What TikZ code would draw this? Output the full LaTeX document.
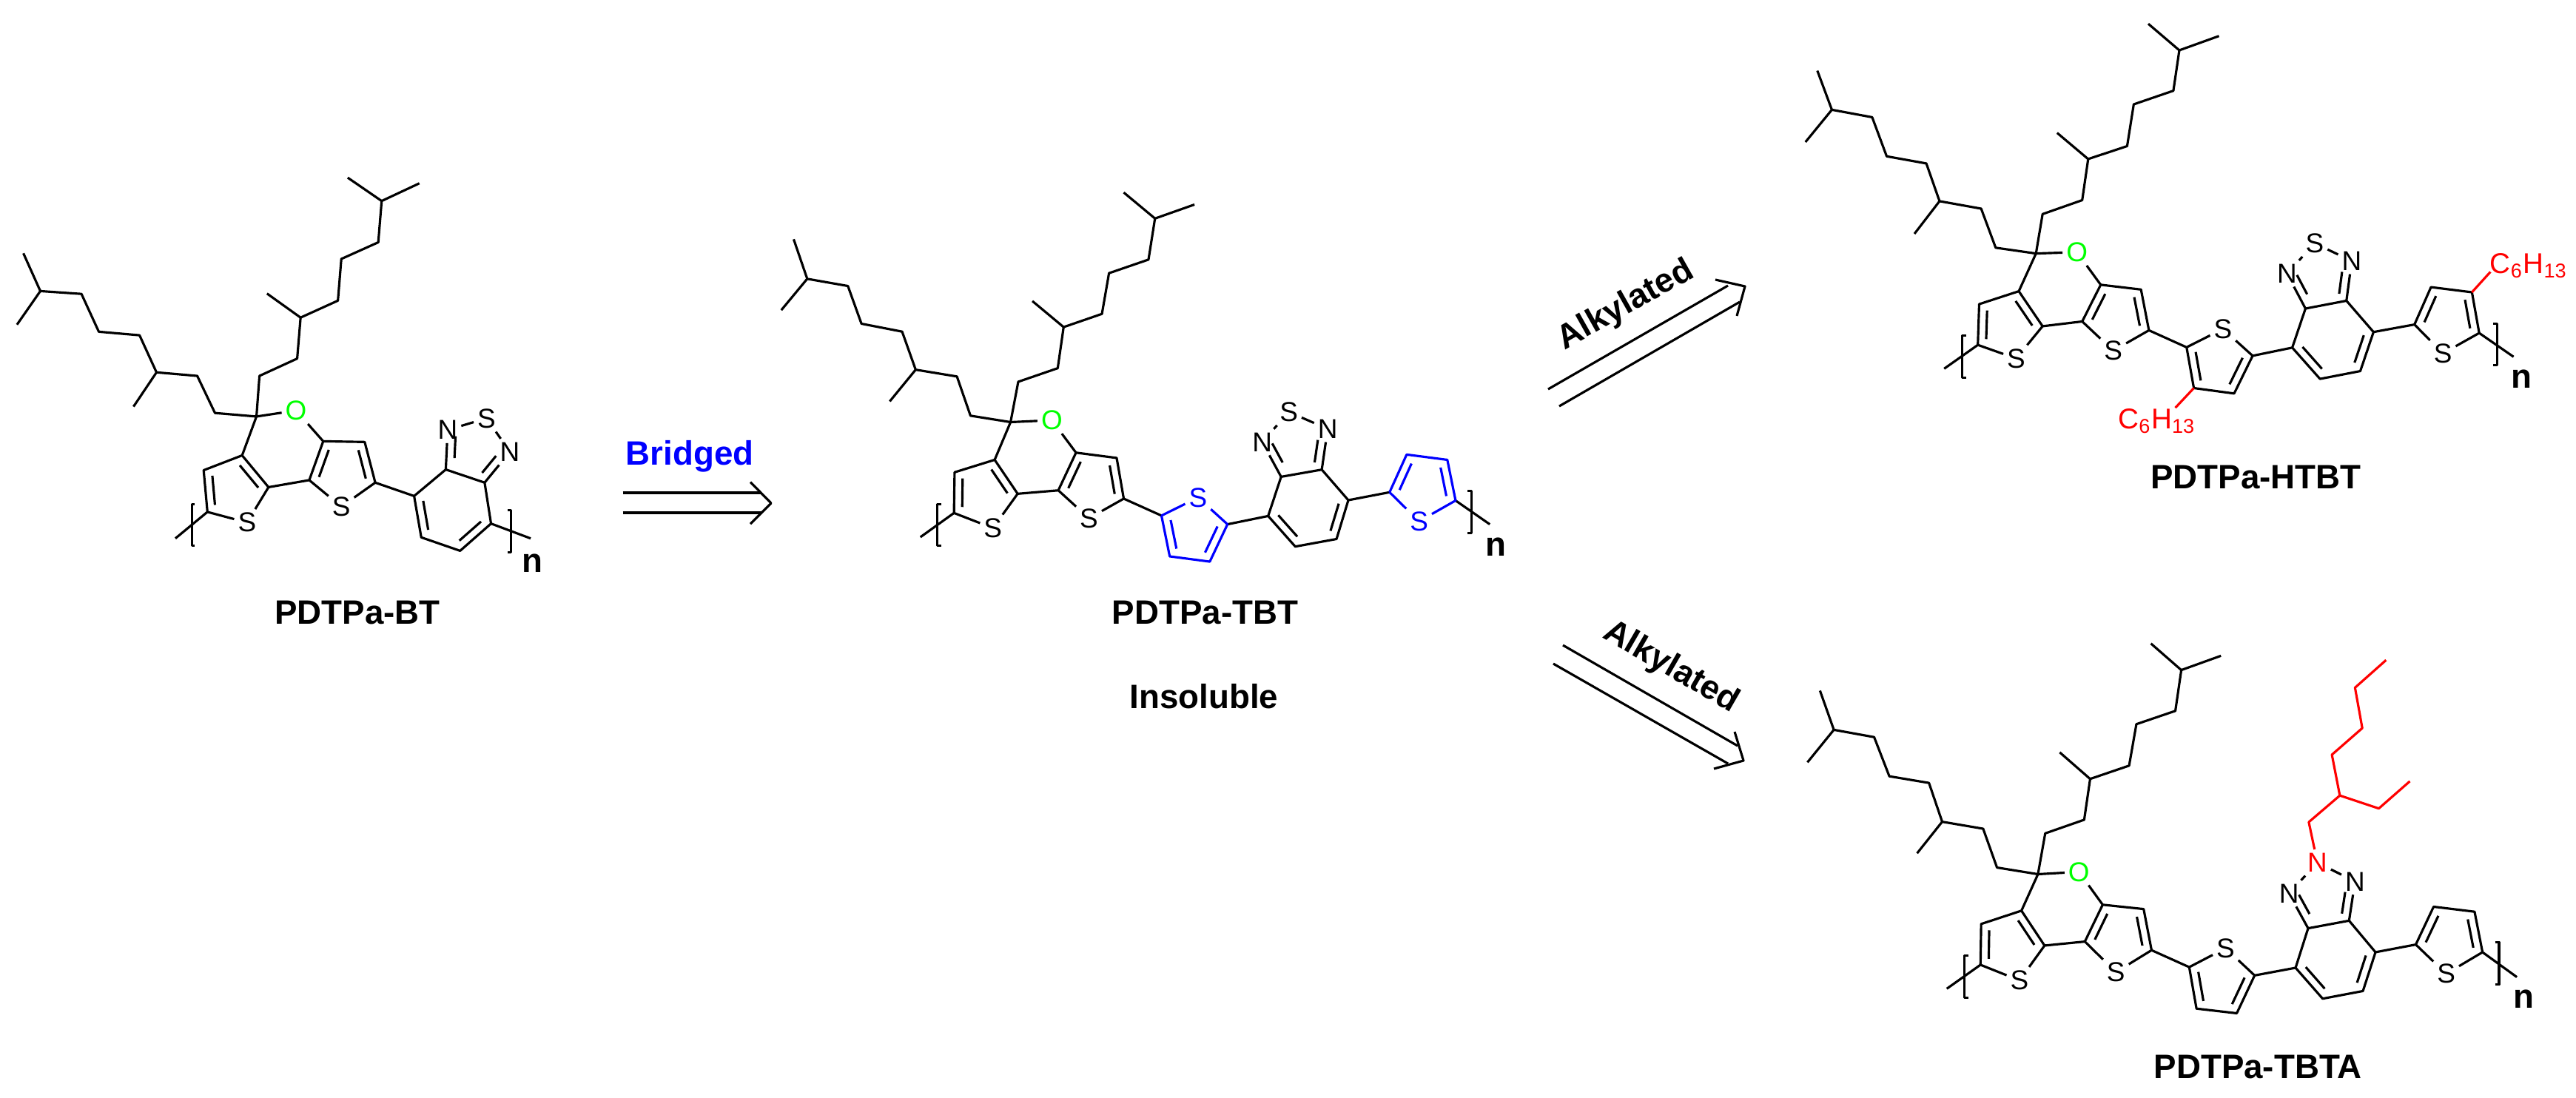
\documentclass[tikz,border=0pt]{standalone}
\usepackage{fontspec}
\setmainfont{Liberation Sans}
\usetikzlibrary{calc}
\definecolor{oxygreen}{RGB}{0,255,0}
\tikzstyle{atom}=[inner sep=1pt, font=\fontsize{10.5}{11}\selectfont]
\tikzstyle{oatom}=[atom, oxygreen]
\tikzstyle{compound}=[inner sep=0pt, font=\fontsize{13}{14}\selectfont\bfseries]
\tikzstyle{hexyl}=[inner sep=0pt, red, font=\fontsize{11}{12}\selectfont]
\newcommand{\inbond}[3][.15]{\draw ($(#2)!.15!(#3)!.11cm!90:(#3)$) -- ($(#3)!#1!(#2)!-.11cm!90:(#2)$);}
\begin{document}
\begin{tikzpicture}[line width=.9pt, line join=round]
    \useasboundingbox (0,0) rectangle (34.81,-14.83);

    \begin{scope}[xshift=0cm, yshift=-2cm, x=.005102cm, y=-.004783cm]
        \coordinate (Aq) at (680,760);
        \node[oatom] (AO) at (785,743) {O};
        \coordinate (Aa1) at (570,750); \coordinate (Aa2) at (523,645); \coordinate (Aa3) at (415,635);
        \coordinate (Aa4) at (354,732); \coordinate (Aa5) at (370,530); \coordinate (Aa6) at (262,520);
        \coordinate (Aa7) at (216,413); \coordinate (Aa8) at (107,405); \coordinate (Aa9) at (62,298);
        \coordinate (Aa10) at (45,500);
        \coordinate (Ae1) at (688,645); \coordinate (Ae2) at (788,596); \coordinate (Ae3) at (797,480);
        \coordinate (Ae4) at (708,412); \coordinate (Ae5) at (896,432); \coordinate (Ae6) at (905,314);
        \coordinate (Ae7) at (1003,267); \coordinate (Ae8) at (1012,150); \coordinate (Ae9) at (922,84);
        \coordinate (Ae10) at (1112,100);
        \coordinate (Ac1) at (642,870); \coordinate (Ac2) at (540,912); \coordinate (Ac3) at (550,1030);
        \coordinate (Ac4) at (712,960); \coordinate (Ac5) at (820,940); \coordinate (Ac6) at (995,947);
        \coordinate (Ac7) at (967,832); \coordinate (Ac8) at (857,830);
        \node[atom] (AS1) at (655,1060) {S};
        \node[atom] (AS2) at (905,1015) {S};
        \coordinate (Ab1) at (1098,985); \coordinate (Ab2) at (1117,1102); \coordinate (Ab3) at (1220,1140);
        \coordinate (Ab4) at (1302,1063); \coordinate (Ab5) at (1285,947); \coordinate (Ab6) at (1182,910);
        \node[atom] (AN1) at (1187,798) {N};
        \node[atom] (AN2) at (1352,860) {N};
        \node[atom] (AS3) at (1290,765) {S};
        \coordinate (Aend1) at (465,1105); \coordinate (Aend2) at (1407,1105);
        \draw (Aq) -- (Aa1) -- (Aa2) -- (Aa3) -- (Aa5) -- (Aa6) -- (Aa7) -- (Aa8) -- (Aa9);
        \draw (Aa3) -- (Aa4);
        \draw (Aa8) -- (Aa10);
        \draw (Aq) -- (Ae1) -- (Ae2) -- (Ae3) -- (Ae5) -- (Ae6) -- (Ae7) -- (Ae8) -- (Ae9);
        \draw (Ae3) -- (Ae4);
        \draw (Ae8) -- (Ae10);
        \draw (AO) -- (Aq) -- (Ac1) -- (Ac2) -- (Ac3) -- (AS1) -- (Ac4) -- (Ac1);
        \draw (Ac4) -- (Ac5) -- (AS2) -- (Ac6) -- (Ac7) -- (Ac8) -- (Ac5);
        \draw (Ac8) -- (AO);
        \draw (Ac6) -- (Ab1) -- (Ab2) -- (Ab3) -- (Ab4) -- (Ab5) -- (Ab6) -- (Ab1);
        \draw (Ab6) -- (AN1) -- (AS3) -- (AN2) -- (Ab5);
        \draw (Ac3) -- (Aend1);
        \draw (Ab4) -- (Aend2);
        \inbond{Ac2}{Ac3} \inbond{Ac4}{Ac1} \inbond{Ac6}{Ac7} \inbond{Ac8}{Ac5}
        \inbond{Ab1}{Ab2} \inbond{Ab3}{Ab4}
        \inbond[.3]{Ab5}{AN2} \inbond[.3]{AN1}{Ab6}
        \draw (517,1008) -- (510,1008) -- (510,1125) -- (517,1125);
        \draw (1347,1025) -- (1355,1025) -- (1355,1145) -- (1347,1145);
        \node[compound] (An) at (1412,1175) {n};
        \node[compound] (Aname) at (948,1315) {PDTPa-BT};
    \end{scope}

    \node[compound, blue] (bridged) at (9.32,-6.17) {Bridged};
    \coordinate (m1a) at (8.415,-6.66); \coordinate (m1b) at (10.29,-6.66);
    \coordinate (m2a) at (8.415,-6.93); \coordinate (m2b) at (10.29,-6.93);
    \coordinate (mh1) at (10.14,-6.515); \coordinate (mh2) at (10.42,-6.80); \coordinate (mh3) at (10.14,-7.08);
    \draw (m1a) -- (m1b);
    \draw (m2a) -- (m2b);
    \draw (mh1) -- (mh2) -- (mh3);

    \begin{scope}[xshift=8.2cm, yshift=-2cm, x=.007972cm, y=-.005102cm]
        \coordinate (Bq) at (685,727);
        \node[oatom] (BO) at (755,722) {O};
        \coordinate (Ba1) at (617,710); \coordinate (Ba2) at (594,606); \coordinate (Ba3) at (524,588);
        \coordinate (Ba4) at (480,672); \coordinate (Ba5) at (501,487); \coordinate (Ba6) at (432,466);
        \coordinate (Ba7) at (409,366); \coordinate (Ba8) at (340,347); \coordinate (Ba9) at (317,242);
        \coordinate (Ba10) at (296,430);
        \coordinate (Be1) at (698,620); \coordinate (Be2) at (765,584); \coordinate (Be3) at (775,475);
        \coordinate (Be4) at (722,406); \coordinate (Be5) at (840,440); \coordinate (Be6) at (852,332);
        \coordinate (Be7) at (919,296); \coordinate (Be8) at (930,187); \coordinate (Be9) at (877,118);
        \coordinate (Be10) at (997,150);
        \coordinate (Bc1) at (658,827); \coordinate (Bc2) at (590,860); \coordinate (Bc3) at (589,968);
        \coordinate (Bc4) at (697,917); \coordinate (Bc5) at (766,908); \coordinate (Bc6) at (877,930);
        \coordinate (Bc7) at (865,822); \coordinate (Bc8) at (796,808);
        \node[atom] (BS1) at (655,1008) {S};
        \node[atom] (BS2) at (818,982) {S};
        \coordinate (Bt1) at (941,975); \coordinate (Bt2) at (1053,998); \coordinate (Bt3) at (1023,1097);
        \coordinate (Bt4) at (955,1083);
        \node[atom, blue] (BS3) at (1003,927) {S};
        \coordinate (Bb1) at (1122,976); \coordinate (Bb2) at (1168,1057); \coordinate (Bb3) at (1238,1037);
        \coordinate (Bb4) at (1258,934); \coordinate (Bb5) at (1213,853); \coordinate (Bb6) at (1144,872);
        \node[atom] (BN1) at (1112,780) {N};
        \node[atom] (BN2) at (1223,745) {N};
        \node[atom] (BS4) at (1157,700) {S};
        \coordinate (Bu1) at (1328,913); \coordinate (Bu2) at (1357,813); \coordinate (Bu3) at (1426,827);
        \coordinate (Bu4) at (1440,935);
        \node[atom, blue] (BS5) at (1378,990) {S};
        \coordinate (Bend1) at (532,1032); \coordinate (Bend2) at (1498,998);
        \draw (Bq) -- (Ba1) -- (Ba2) -- (Ba3) -- (Ba5) -- (Ba6) -- (Ba7) -- (Ba8) -- (Ba9);
        \draw (Ba3) -- (Ba4);
        \draw (Ba8) -- (Ba10);
        \draw (Bq) -- (Be1) -- (Be2) -- (Be3) -- (Be5) -- (Be6) -- (Be7) -- (Be8) -- (Be9);
        \draw (Be3) -- (Be4);
        \draw (Be8) -- (Be10);
        \draw (BO) -- (Bq) -- (Bc1) -- (Bc2) -- (Bc3) -- (BS1) -- (Bc4) -- (Bc1);
        \draw (Bc4) -- (Bc5) -- (BS2) -- (Bc6) -- (Bc7) -- (Bc8) -- (Bc5);
        \draw (Bc8) -- (BO);
        \draw (Bc6) -- (Bt1);
        \draw (Bt2) -- (Bb1) -- (Bb2) -- (Bb3) -- (Bb4) -- (Bb5) -- (Bb6) -- (Bb1);
        \draw (Bb6) -- (BN1) -- (BS4) -- (BN2) -- (Bb5);
        \draw (Bb4) -- (Bu1);
        \draw (Bc3) -- (Bend1);
        \draw (Bu4) -- (Bend2);
        \inbond{Bc2}{Bc3} \inbond{Bc4}{Bc1} \inbond{Bc6}{Bc7} \inbond{Bc8}{Bc5}
        \inbond{Bb1}{Bb2} \inbond{Bb3}{Bb4}
        \inbond[.3]{Bb5}{BN2} \inbond[.3]{BN1}{Bb6}
        \begin{scope}[blue]
            \draw (Bt1) -- (BS3) -- (Bt2) -- (Bt3) -- (Bt4) -- (Bt1);
            \draw (Bu1) -- (Bu2) -- (Bu3) -- (Bu4) -- (BS5) -- (Bu1);
            \inbond{Bt1}{Bt4} \inbond{Bt3}{Bt2} \inbond{Bu4}{Bu3} \inbond{Bu2}{Bu1}
        \end{scope}
        \draw (568,945) -- (561,945) -- (561,1055) -- (568,1055);
        \draw (1460,910) -- (1467,910) -- (1467,1022) -- (1460,1022);
        \node[compound] (Bn) at (1508,1057) {n};
        \node[compound] (Bname) at (1015,1232) {PDTPa-TBT};
        \node[compound] (Bnote) at (1013,1455) {Insoluble};
    \end{scope}

    \node[compound, rotate=29.3] (alkup) at (21.97,-4.13) {Alkylated};
    \coordinate (u1a) at (20.92,-5.26); \coordinate (u1b) at (23.35,-3.86);
    \coordinate (u2a) at (21.07,-5.49); \coordinate (u2b) at (23.51,-4.08);
    \coordinate (uh1) at (23.18,-3.78); \coordinate (uh2) at (23.58,-3.87); \coordinate (uh3) at (23.47,-4.27);
    \draw (u1a) -- (u1b);
    \draw (u2a) -- (u2b);
    \draw (uh1) -- (uh2) -- (uh3);

    \node[compound, rotate=-30] (alkdown) at (22.58,-9.02) {Alkylated};
    \coordinate (d1a) at (21.12,-8.72); \coordinate (d1b) at (23.48,-10.08);
    \coordinate (d2a) at (20.99,-8.97); \coordinate (d2b) at (23.35,-10.32);
    \coordinate (dh1) at (23.44,-9.89); \coordinate (dh2) at (23.56,-10.28); \coordinate (dh3) at (23.16,-10.39);
    \draw (d1a) -- (d1b);
    \draw (d2a) -- (d2b);
    \draw (dh1) -- (dh2) -- (dh3);

    \begin{scope}[xshift=20.8cm, yshift=0cm, x=.008929cm, y=-.004592cm]
        \coordinate (Cq) at (752,746);
        \node[oatom] (CO) at (814,742) {O};
        \coordinate (Ca1) at (691,729); \coordinate (Ca2) at (669,614); \coordinate (Ca3) at (606,592);
        \coordinate (Ca4) at (568,688); \coordinate (Ca5) at (586,481); \coordinate (Ca6) at (526,460);
        \coordinate (Ca7) at (504,345); \coordinate (Ca8) at (443,323); \coordinate (Ca9) at (421,208);
        \coordinate (Ca10) at (403,418);
        \coordinate (Ce1) at (762,630); \coordinate (Ce2) at (822,589); \coordinate (Ce3) at (831,468);
        \coordinate (Ce4) at (784,391); \coordinate (Ce5) at (890,430); \coordinate (Ce6) at (900,307);
        \coordinate (Ce7) at (960,267); \coordinate (Ce8) at (969,148); \coordinate (Ce9) at (922,70);
        \coordinate (Ce10) at (1029,106);
        \coordinate (Cc1) at (726,857); \coordinate (Cc2) at (666,895); \coordinate (Cc3) at (664,1015);
        \coordinate (Cc4) at (762,960); \coordinate (Cc5) at (822,946); \coordinate (Cc6) at (923,972);
        \coordinate (Cc7) at (911,852); \coordinate (Cc8) at (850,838);
        \node[atom] (CS1) at (722,1055) {S};
        \node[atom] (CS2) at (869,1032) {S};
        \coordinate (Ct1) at (980,1022); \coordinate (Ct2) at (1080,1047); \coordinate (Ct3) at (1052,1158);
        \coordinate (Ct4) at (991,1142);
        \node[atom] (CS3) at (1035,968) {S};
        \coordinate (Cb1) at (1140,1023); \coordinate (Cb2) at (1182,1115); \coordinate (Cb3) at (1243,1092);
        \coordinate (Cb4) at (1263,977); \coordinate (Cb5) at (1222,885); \coordinate (Cb6) at (1160,908);
        \node[atom] (CN1) at (1132,805) {N};
        \node[atom] (CN2) at (1230,768) {N};
        \node[atom] (CS4) at (1174,716) {S};
        \coordinate (Cu1) at (1325,955); \coordinate (Cu2) at (1350,845); \coordinate (Cu3) at (1412,860);
        \coordinate (Cu4) at (1423,980);
        \node[atom] (CS5) at (1368,1040) {S};
        \coordinate (Cend1) at (613,1085); \coordinate (Cend2) at (1475,1050);
        \coordinate (Cr1) at (963,1200); \coordinate (Cr2) at (1440,800);
        \node[hexyl] (Chex1) at (935,1240) {C\textsubscript{6}H\textsubscript{13}};
        \node[hexyl] (Chex2) at (1498,782) {C\textsubscript{6}H\textsubscript{13}};
        \draw (Cq) -- (Ca1) -- (Ca2) -- (Ca3) -- (Ca5) -- (Ca6) -- (Ca7) -- (Ca8) -- (Ca9);
        \draw (Ca3) -- (Ca4);
        \draw (Ca8) -- (Ca10);
        \draw (Cq) -- (Ce1) -- (Ce2) -- (Ce3) -- (Ce5) -- (Ce6) -- (Ce7) -- (Ce8) -- (Ce9);
        \draw (Ce3) -- (Ce4);
        \draw (Ce8) -- (Ce10);
        \draw (CO) -- (Cq) -- (Cc1) -- (Cc2) -- (Cc3) -- (CS1) -- (Cc4) -- (Cc1);
        \draw (Cc4) -- (Cc5) -- (CS2) -- (Cc6) -- (Cc7) -- (Cc8) -- (Cc5);
        \draw (Cc8) -- (CO);
        \draw (Cc6) -- (Ct1) -- (CS3) -- (Ct2) -- (Ct3) -- (Ct4) -- (Ct1);
        \draw (Ct2) -- (Cb1) -- (Cb2) -- (Cb3) -- (Cb4) -- (Cb5) -- (Cb6) -- (Cb1);
        \draw (Cb6) -- (CN1) -- (CS4) -- (CN2) -- (Cb5);
        \draw (Cb4) -- (Cu1) -- (Cu2) -- (Cu3) -- (Cu4) -- (CS5) -- (Cu1);
        \draw (Cc3) -- (Cend1);
        \draw (Cu4) -- (Cend2);
        \draw[red] (Ct4) -- (Cr1);
        \draw[red] (Cu3) -- (Cr2);
        \inbond{Cc2}{Cc3} \inbond{Cc4}{Cc1} \inbond{Cc6}{Cc7} \inbond{Cc8}{Cc5}
        \inbond{Ct1}{Ct4} \inbond{Ct3}{Ct2} \inbond{Cb1}{Cb2} \inbond{Cb3}{Cb4}
        \inbond[.3]{Cb5}{CN2} \inbond[.3]{CN1}{Cb6}
        \inbond{Cu4}{Cu3} \inbond{Cu2}{Cu1}
        \draw (646,988) -- (640,988) -- (640,1112) -- (646,1112);
        \draw (1444,952) -- (1450,952) -- (1450,1075) -- (1444,1075);
        \node[compound] (Cn) at (1487,1115) {n};
        \node[compound] (Cname) at (1085,1405) {PDTPa-HTBT};
    \end{scope}

    \begin{scope}[xshift=20.8cm, yshift=-7.8cm, x=.008929cm, y=-.004483cm]
        \coordinate (Dq) at (755,895);
        \node[oatom] (DO) at (817,888) {O};
        \coordinate (Da1) at (693,875); \coordinate (Da2) at (672,758); \coordinate (Da3) at (610,737);
        \coordinate (Da4) at (572,832); \coordinate (Da5) at (590,620); \coordinate (Da6) at (530,600);
        \coordinate (Da7) at (507,482); \coordinate (Da8) at (446,460); \coordinate (Da9) at (425,342);
        \coordinate (Da10) at (406,558);
        \coordinate (De1) at (766,772); \coordinate (De2) at (825,731); \coordinate (De3) at (834,608);
        \coordinate (De4) at (788,528); \coordinate (De5) at (893,568); \coordinate (De6) at (904,443);
        \coordinate (De7) at (963,403); \coordinate (De8) at (972,280); \coordinate (De9) at (926,200);
        \coordinate (De10) at (1032,237);
        \coordinate (Dc1) at (730,1005); \coordinate (Dc2) at (669,1045); \coordinate (Dc3) at (668,1168);
        \coordinate (Dc4) at (765,1110); \coordinate (Dc5) at (826,1098); \coordinate (Dc6) at (927,1124);
        \coordinate (Dc7) at (915,1000); \coordinate (Dc8) at (853,987);
        \node[atom] (DS1) at (727,1215) {S};
        \node[atom] (DS2) at (873,1190) {S};
        \coordinate (Dt1) at (984,1175); \coordinate (Dt2) at (1083,1200); \coordinate (Dt3) at (1056,1314);
        \coordinate (Dt4) at (995,1300);
        \node[atom] (DS3) at (1039,1118) {S};
        \coordinate (Db1) at (1145,1177); \coordinate (Db2) at (1186,1270); \coordinate (Db3) at (1247,1247);
        \coordinate (Db4) at (1266,1130); \coordinate (Db5) at (1226,1035); \coordinate (Db6) at (1164,1058);
        \node[atom] (DN1) at (1135,953) {N};
        \node[atom] (DN2) at (1235,917) {N};
        \node[atom, red] (DN3) at (1178,860) {N};
        \coordinate (Dr1) at (1165,738); \coordinate (Dr2) at (1212,658); \coordinate (Dr3) at (1271,697);
        \coordinate (Dr4) at (1318,615); \coordinate (Dr5) at (1200,535); \coordinate (Dr6) at (1246,455);
        \coordinate (Dr7) at (1235,333); \coordinate (Dr8) at (1282,250);
        \coordinate (Du1) at (1327,1107); \coordinate (Du2) at (1354,993); \coordinate (Du3) at (1416,1008);
        \coordinate (Du4) at (1428,1130);
        \node[atom] (DS4) at (1373,1195) {S};
        \coordinate (Dend1) at (617,1240); \coordinate (Dend2) at (1480,1205);
        \draw (Dq) -- (Da1) -- (Da2) -- (Da3) -- (Da5) -- (Da6) -- (Da7) -- (Da8) -- (Da9);
        \draw (Da3) -- (Da4);
        \draw (Da8) -- (Da10);
        \draw (Dq) -- (De1) -- (De2) -- (De3) -- (De5) -- (De6) -- (De7) -- (De8) -- (De9);
        \draw (De3) -- (De4);
        \draw (De8) -- (De10);
        \draw (DO) -- (Dq) -- (Dc1) -- (Dc2) -- (Dc3) -- (DS1) -- (Dc4) -- (Dc1);
        \draw (Dc4) -- (Dc5) -- (DS2) -- (Dc6) -- (Dc7) -- (Dc8) -- (Dc5);
        \draw (Dc8) -- (DO);
        \draw (Dc6) -- (Dt1) -- (DS3) -- (Dt2) -- (Dt3) -- (Dt4) -- (Dt1);
        \draw (Dt2) -- (Db1) -- (Db2) -- (Db3) -- (Db4) -- (Db5) -- (Db6) -- (Db1);
        \draw (Db6) -- (DN1) -- (DN3) -- (DN2) -- (Db5);
        \draw (Db4) -- (Du1) -- (Du2) -- (Du3) -- (Du4) -- (DS4) -- (Du1);
        \draw (Dc3) -- (Dend1);
        \draw (Du4) -- (Dend2);
        \draw[red] (DN3) -- (Dr1) -- (Dr2) -- (Dr3) -- (Dr4);
        \draw[red] (Dr2) -- (Dr5) -- (Dr6) -- (Dr7) -- (Dr8);
        \inbond{Dc2}{Dc3} \inbond{Dc4}{Dc1} \inbond{Dc6}{Dc7} \inbond{Dc8}{Dc5}
        \inbond{Dt1}{Dt4} \inbond{Dt3}{Dt2} \inbond{Db1}{Db2} \inbond{Db3}{Db4}
        \inbond[.3]{Db5}{DN2} \inbond[.3]{DN1}{Db6}
        \inbond{Du4}{Du3} \inbond{Du2}{Du1}
        \draw (650,1140) -- (644,1140) -- (644,1268) -- (650,1268);
        \draw (1447,1100) -- (1453,1100) -- (1453,1228) -- (1447,1228);
        \node[compound] (Dn) at (1490,1270) {n};
        \node[compound] (Dname) at (1088,1475) {PDTPa-TBTA};
    \end{scope}
\end{tikzpicture}
\end{document}
